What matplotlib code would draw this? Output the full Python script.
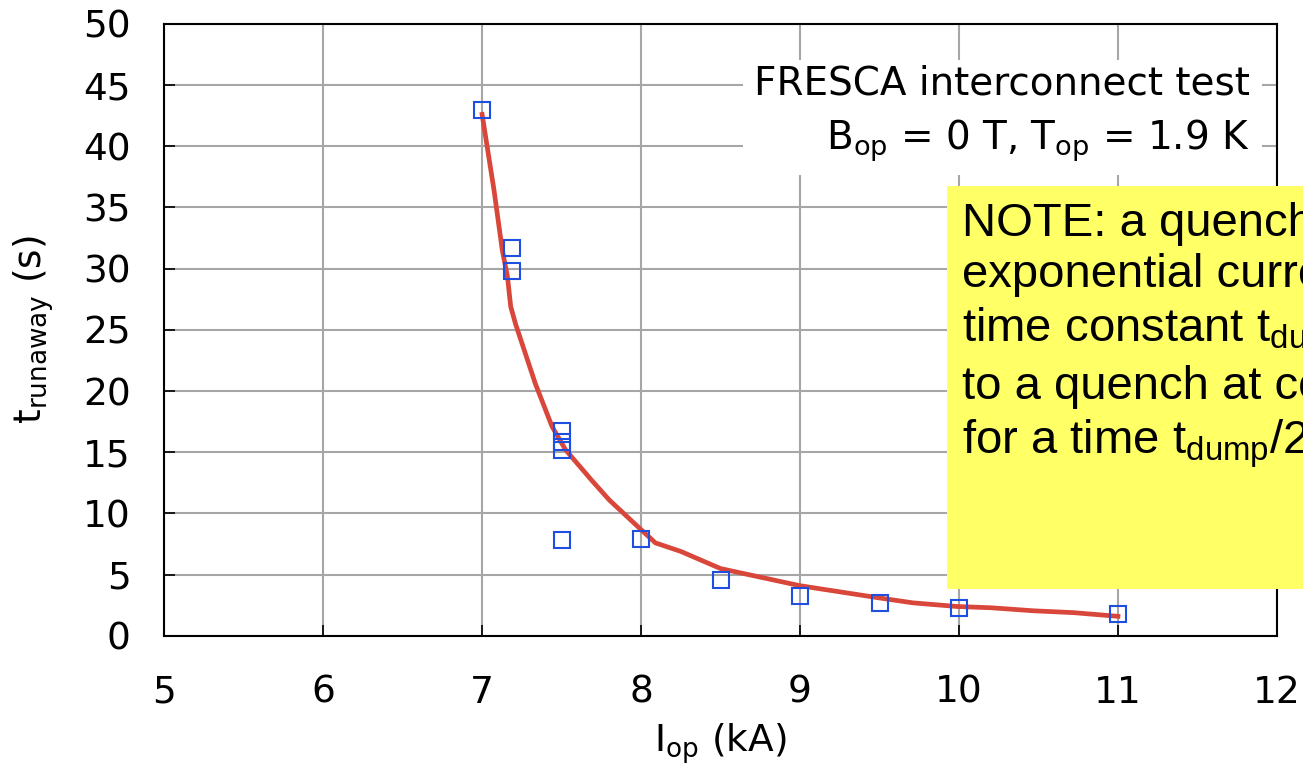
import matplotlib
matplotlib.use('Agg')
import matplotlib.pyplot as plt
from matplotlib.patches import Rectangle

# measured points (blue squares)
i_meas = [7.0, 7.19, 7.19, 7.5, 7.5, 7.5, 7.5, 8.0, 8.5, 9.0, 9.5, 10.0, 11.0]
t_meas = [43.0, 31.7, 29.8, 16.7, 15.8, 15.2, 7.8, 7.9, 4.6, 3.3, 2.7, 2.3, 1.8]

# model curve (red line)
i_fit = [7.0, 7.075, 7.127, 7.159, 7.18, 7.21, 7.335, 7.44, 7.525, 7.69, 7.80,
         7.99, 8.09, 8.25, 8.5, 9.0, 9.5, 9.71, 9.99, 10.2, 10.47, 10.72, 11.0]
t_fit = [42.6, 36.4, 31.5, 29.4, 26.9, 25.5, 20.6, 17.1, 15.2, 12.7, 11.1,
         8.8, 7.6, 6.9, 5.5, 4.1, 3.1, 2.7, 2.4, 2.3, 2.05, 1.9, 1.6]

x_ticks = [5, 6, 7, 8, 9, 10, 11, 12]
y_ticks = [0, 5, 10, 15, 20, 25, 30, 35, 40, 45, 50]

plt.rcParams['mathtext.fontset'] = 'custom'
plt.rcParams['mathtext.rm'] = 'Liberation Sans'

fig = plt.figure(figsize=(13.03, 7.68), dpi=100)
ax = fig.add_axes([0.126, 0.172, 0.854, 0.797])

ax.plot(i_fit, t_fit, color='#d9463a', linewidth=3.4, zorder=3)
ax.plot(i_meas, t_meas, linestyle='none', marker='s', markersize=11.5,
        markerfacecolor='none', markeredgecolor='#1f4fe0', markeredgewidth=1.5, zorder=4)

ax.set_xlim(5, 12)
ax.set_ylim(0, 50)
ax.set_xticks(x_ticks)
ax.set_yticks(y_ticks)
ax.grid(True, color='#a6a6a6', linewidth=1.5)
ax.set_axisbelow(True)
ax.tick_params(axis='both', direction='in', length=8, width=1.2, labelsize=27)
ax.tick_params(axis='y', pad=24)
ax.tick_params(axis='x', pad=28)
for s in ax.spines.values():
    s.set_linewidth(1.5)

ax.set_xlabel(r'$\mathregular{I_{op}}$ (kA)', fontsize=27, math_fontfamily='dejavusans')
ax.set_ylabel(r'$\mathregular{t_{runaway}}$ (s)', fontsize=27, math_fontfamily='dejavusans')
ax.xaxis.set_label_coords(0.5, -0.14)
ax.yaxis.set_label_coords(-0.097, 0.5)

ax.text(0.976, 0.852, 'FRESCA interconnect test\n'
        r'$\mathregular{B_{op}}$ = 0 T, $\mathregular{T_{op}}$ = 1.9 K',
        transform=ax.transAxes, ha='right', va='center', fontsize=28,
        math_fontfamily='dejavusans', linespacing=1.45,
        bbox=dict(facecolor='white', edgecolor='none', pad=8), zorder=5)

# yellow note, partly cut off by the right edge
fig.patches.append(Rectangle((0.7268, 0.2331), 0.4, 0.5247, transform=fig.transFigure,
                             facecolor='#ffff66', edgecolor='none', zorder=10))
fig.text(0.7383, 0.737,
         'NOTE: a quench with an\n'
         'exponential current decay with\n'
         r'time constant t$_{\mathrm{dump}}$ is equivalent' '\n'
         'to a quench at constant current\n'
         r'for a time t$_{\mathrm{dump}}$/2',
         family='Liberation Sans', fontsize=34, ha='left', va='top',
         linespacing=1.22, zorder=11)

plt.savefig('out.png', dpi=100)
